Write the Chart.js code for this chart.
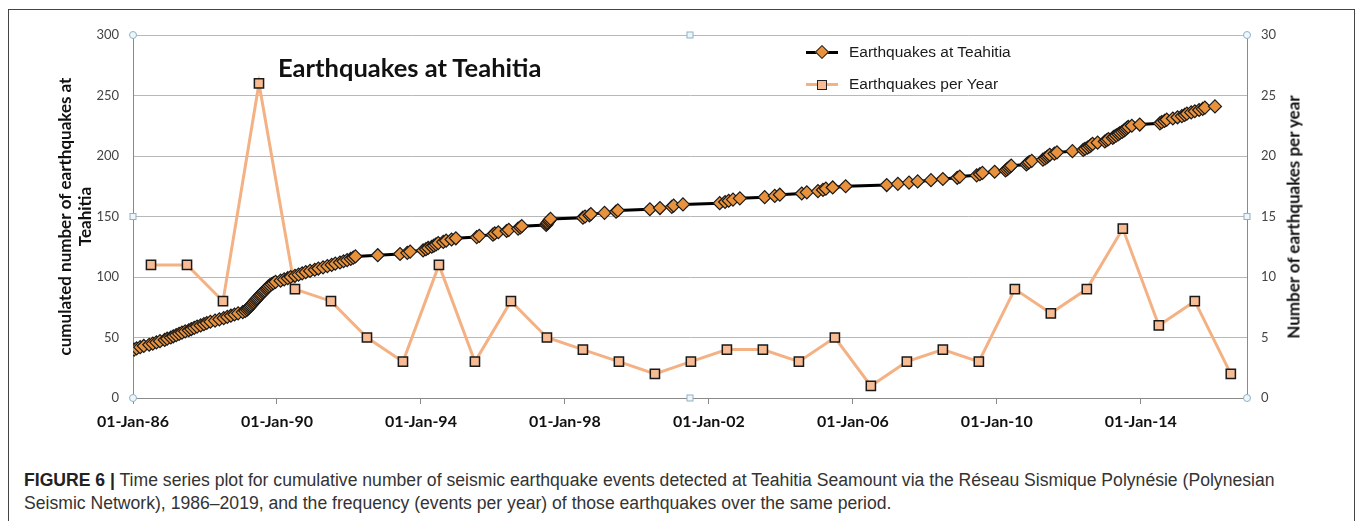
<!DOCTYPE html>
<html>
<head>
<meta charset="utf-8">
<title>Earthquakes at Teahitia</title>
<script src="https://cdn.jsdelivr.net/npm/chart.js@4.4.1/dist/chart.umd.min.js"></script>
<style>
    body { margin: 0; width: 1358px; height: 521px; overflow: hidden; background: #fff; position: relative; }
    .frame { position: absolute; left: 8px; top: 9px; width: 1345px; height: 600px; border: 1.5px solid #444; }
    #quakeChart { position: absolute; left: 0; top: 0; }
    .chart-title { position: absolute; left: 278px; top: 52px; font: bold 25.5px Lato, sans-serif; color: #111; white-space: nowrap; }
    .right-title { position: absolute; left: 1293px; top: 217px; transform: translate(-50%, -50%) rotate(-90deg);
        font: bold 17px Lato, sans-serif; color: #111; white-space: nowrap; }
    .legend { position: absolute; left: 806px; top: 40px; font: 15.5px "Liberation Sans", Arial, sans-serif; color: #1a1a1a; }
    .legend-row { position: relative; height: 32px; white-space: nowrap; }
    .legend-line { position: absolute; left: 0; top: 11px; width: 32px; height: 3px; }
    .legend-mark { position: absolute; box-sizing: border-box; }
    .legend-text { position: absolute; left: 43px; top: 3px; }
    .caption { position: absolute; left: 24px; top: 469px; margin: 0; font: 17.6px "Liberation Sans", Arial, sans-serif;
        color: #333; line-height: 23px; white-space: nowrap; }
    .caption b { color: #222; }
</style>
</head>
<body>
<div class="frame"></div>
<canvas id="quakeChart" width="1358" height="440"></canvas>
<div class="chart-title">Earthquakes at Teahitia</div>
<div class="legend">
    <div class="legend-row">
        <span class="legend-line" style="background:#000"></span>
        <span class="legend-mark" style="left:11px;top:7px;width:10px;height:10px;background:#e8923e;border:1px solid #222;transform:rotate(45deg)"></span>
        <span class="legend-text">Earthquakes at Teahitia</span>
    </div>
    <div class="legend-row">
        <span class="legend-line" style="background:#f4b183"></span>
        <span class="legend-mark" style="left:11px;top:8px;width:10px;height:10px;background:#f8bc94;border:1.5px solid #222"></span>
        <span class="legend-text">Earthquakes per Year</span>
    </div>
</div>
<div class="right-title">Number of earthquakes per year</div>
<p class="caption"><b>FIGURE 6 |</b> Time series plot for cumulative number of seismic earthquake events detected at Teahitia Seamount via the Réseau Sismique Polynésie (Polynesian<br>Seismic Network), 1986–2019, and the frequency (events per year) of those earthquakes over the same period.</p>

<script>
// cumulative count, one point per event (decimal year)
const quakeYears = [
    1986.03, 1986.1, 1986.2, 1986.3, 1986.45, 1986.55, 1986.65, 1986.75, 1986.88, 1986.95,
    1987.05, 1987.12, 1987.2, 1987.28, 1987.36, 1987.45, 1987.55, 1987.62, 1987.7, 1987.78, 1987.88, 1987.97,
    1988.05, 1988.15, 1988.28, 1988.4, 1988.52, 1988.62, 1988.72, 1988.82, 1988.92,
    1989.05, 1989.12, 1989.17, 1989.2, 1989.23, 1989.26, 1989.29, 1989.32, 1989.35, 1989.38, 1989.41, 1989.44,
    1989.47, 1989.5, 1989.53, 1989.56, 1989.6, 1989.63, 1989.66, 1989.7, 1989.73, 1989.76, 1989.8, 1989.85, 1989.9, 1989.96,
    1990.1, 1990.2, 1990.3, 1990.38, 1990.5, 1990.6, 1990.7, 1990.8, 1990.92,
    1991.05, 1991.15, 1991.28, 1991.4, 1991.52, 1991.62, 1991.75, 1991.85, 1991.95,
    1992.05, 1992.12, 1992.18, 1992.8, 1993.42, 1993.62, 1993.7,
    1994.06, 1994.14, 1994.2, 1994.3, 1994.36, 1994.42, 1994.48, 1994.62, 1994.7, 1994.85, 1994.97,
    1995.55, 1995.62, 1996.0, 1996.05, 1996.15, 1996.38, 1996.44, 1996.7, 1996.76, 1996.8,
    1997.48, 1997.5, 1997.52, 1997.55, 1997.57, 1997.6, 1998.5, 1998.56, 1998.68, 1998.72,
    1999.1, 1999.42, 1999.47, 2000.36, 2000.64, 2000.97, 2001.02, 2001.28,
    2002.3, 2002.45, 2002.55, 2002.67, 2002.86, 2003.55, 2003.83, 2003.97, 2004.58, 2004.72,
    2005.03, 2005.17, 2005.25, 2005.44, 2005.8, 2006.94, 2007.25, 2007.56, 2007.8,
    2008.17, 2008.5, 2008.9, 2008.97, 2009.44, 2009.53, 2009.6, 2009.94,
    2010.24, 2010.28, 2010.32, 2010.36, 2010.4, 2010.82, 2010.86, 2010.9, 2010.97,
    2011.28, 2011.34, 2011.39, 2011.43, 2011.47, 2011.6, 2011.67,
    2012.1, 2012.4, 2012.45, 2012.52, 2012.58, 2012.62, 2012.66, 2012.8,
    2013.0, 2013.05, 2013.1, 2013.22, 2013.26, 2013.32, 2013.38, 2013.42, 2013.48, 2013.53, 2013.57, 2013.61, 2013.65, 2013.75, 2013.97,
    2014.53, 2014.58, 2014.66, 2014.72, 2014.89,
    2015.02, 2015.14, 2015.22, 2015.28, 2015.4, 2015.5, 2015.62, 2015.72, 2015.78, 2016.06
]
const quakeCounts = [
    40, 41, 42, 43, 44, 45, 46, 47, 48, 49,
    50, 51, 52, 53, 54, 55, 56, 57, 58, 59, 60, 61,
    62, 63, 64, 65, 66, 67, 68, 69, 70,
    71, 72, 73, 74, 75, 76, 77, 78, 79, 80, 81, 82,
    83, 84, 85, 86, 87, 88, 89, 90, 91, 92, 93, 94, 95, 96,
    97, 98, 99, 100, 101, 102, 103, 104, 105,
    106, 107, 108, 109, 110, 111, 112, 113, 114,
    115, 116, 117, 118, 119, 120, 121,
    122, 123, 124, 125, 126, 127, 128, 129, 130, 131, 132,
    133, 134, 135, 136, 137, 138, 139, 140, 141, 142,
    143, 144, 145, 146, 147, 148, 149, 150, 151, 152,
    153, 154, 155, 156, 157, 158, 159, 160,
    161, 162, 163, 164, 165, 166, 167, 168, 169, 170,
    171, 172, 173, 174, 175, 176, 177, 178, 179,
    180, 181, 182, 183, 184, 185, 186, 187,
    188, 189, 190, 191, 192, 193, 194, 195, 196,
    197, 198, 199, 200, 201, 202, 203,
    204, 205, 206, 207, 208, 209, 210, 211,
    212, 213, 214, 215, 216, 217, 218, 219, 220, 221, 222, 223, 224, 225, 226,
    227, 228, 229, 230, 231,
    232, 233, 234, 235, 236, 237, 238, 239, 240, 241
]

// events per year, plotted at mid-year
const years = [1986, 1987, 1988, 1989, 1990, 1991, 1992, 1993, 1994, 1995, 1996, 1997, 1998, 1999, 2000, 2001,
    2002, 2003, 2004, 2005, 2006, 2007, 2008, 2009, 2010, 2011, 2012, 2013, 2014, 2015, 2016]
const perYear = [11, 11, 8, 26, 9, 8, 5, 3, 11, 3, 8, 5, 4, 3, 2, 3,
    4, 4, 3, 5, 1, 3, 4, 3, 9, 7, 9, 14, 6, 8, 2]

const xTickYears = [1986, 1990, 1994, 1998, 2002, 2006, 2010, 2014]
const xTickLabels = ['01-Jan-86', '01-Jan-90', '01-Jan-94', '01-Jan-98', '01-Jan-02', '01-Jan-06', '01-Jan-10', '01-Jan-14']

const axisGrey = '#8a8a8a'
const tickFont = { family: 'Lato, sans-serif', size: 13 }

// the little selection handles Excel left on the plot area
const handlesPlugin = {
    id: 'handles',
    afterDraw(chart) {
        const { ctx, chartArea: { left, right, top, bottom } } = chart
        const midX = (left + right) / 2, midY = (top + bottom) / 2
        ctx.save()
        ctx.strokeStyle = '#8db3c7'
        ctx.fillStyle = '#eef6fa'
        ctx.lineWidth = 1
        const circle = (x, y) => { ctx.beginPath(); ctx.arc(x, y, 3.5, 0, Math.PI * 2); ctx.fill(); ctx.stroke() }
        const square = (x, y) => { ctx.fillRect(x - 3, y - 3, 6, 6); ctx.strokeRect(x - 3, y - 3, 6, 6) }
        circle(left, top); circle(left, bottom); circle(right, top); circle(right, bottom)
        square(left, midY); square(right, midY); square(midX, top); square(midX, bottom)
        ctx.restore()
    }
}

const quakeChart = new Chart(document.querySelector('#quakeChart'), {
    type: 'line',
    data: {
        datasets: [
            {
                label: 'Earthquakes at Teahitia',
                data: quakeYears.map((yr, i) => ({ x: yr, y: quakeCounts[i] })),
                yAxisID: 'y',
                borderColor: '#000',
                borderWidth: 3,
                pointStyle: 'rectRot',
                pointRadius: 6.5,
                pointBackgroundColor: '#e8923e',
                pointBorderColor: '#1a1a1a',
                pointBorderWidth: 1.2,
                tension: 0
            },
            {
                label: 'Earthquakes per Year',
                data: years.map((yr, i) => ({ x: yr + 0.5, y: perYear[i] })),
                yAxisID: 'y2',
                borderColor: '#f4b183',
                borderWidth: 3,
                pointStyle: 'rect',
                pointRadius: 6.5,
                pointBackgroundColor: '#f8bc94',
                pointBorderColor: '#1a1a1a',
                pointBorderWidth: 1.5,
                tension: 0
            }
        ]
    },
    options: {
        responsive: false,
        animation: false,
        devicePixelRatio: 1,
        layout: { padding: { top: 35, left: 0, right: 0, bottom: 0 } },
        plugins: {
            legend: { display: false },
            tooltip: { enabled: false }
        },
        scales: {
            x: {
                type: 'linear',
                min: 1986,
                max: 2016.95,
                afterBuildTicks: scale => { scale.ticks = xTickYears.map(v => ({ value: v })) },
                afterFit: scale => { scale.height = 42 },
                ticks: {
                    autoSkip: false,
                    maxRotation: 0,
                    padding: 8,
                    color: '#111',
                    font: { family: 'Lato, sans-serif', size: 16, weight: 'bold' },
                    callback: (value, index) => xTickLabels[index]
                },
                grid: { drawOnChartArea: false, drawTicks: true, tickLength: 6, color: axisGrey },
                border: { color: axisGrey, width: 1 }
            },
            y: {
                position: 'left',
                min: 0,
                max: 300,
                afterFit: scale => { scale.width = 133 },
                ticks: { stepSize: 50, padding: 14, color: '#444', font: tickFont },
                grid: { color: '#b8b8b8', drawTicks: false },
                border: { color: axisGrey, width: 1 },
                title: {
                    display: true,
                    text: ['cumulated number of earthquakes at', 'Teahitia'],
                    color: '#111',
                    font: { family: 'Lato, sans-serif', size: 17, weight: 'bold', lineHeight: 1.18 },
                    padding: { top: 55, bottom: 0 }
                }
            },
            y2: {
                position: 'right',
                min: 0,
                max: 30,
                afterFit: scale => { scale.width = 111 },
                ticks: { stepSize: 5, padding: 14, color: '#444', font: tickFont },
                grid: { drawOnChartArea: false, drawTicks: false },
                border: { color: axisGrey, width: 1 }
            }
        }
    },
    plugins: [handlesPlugin]
})
</script>
</body>
</html>
